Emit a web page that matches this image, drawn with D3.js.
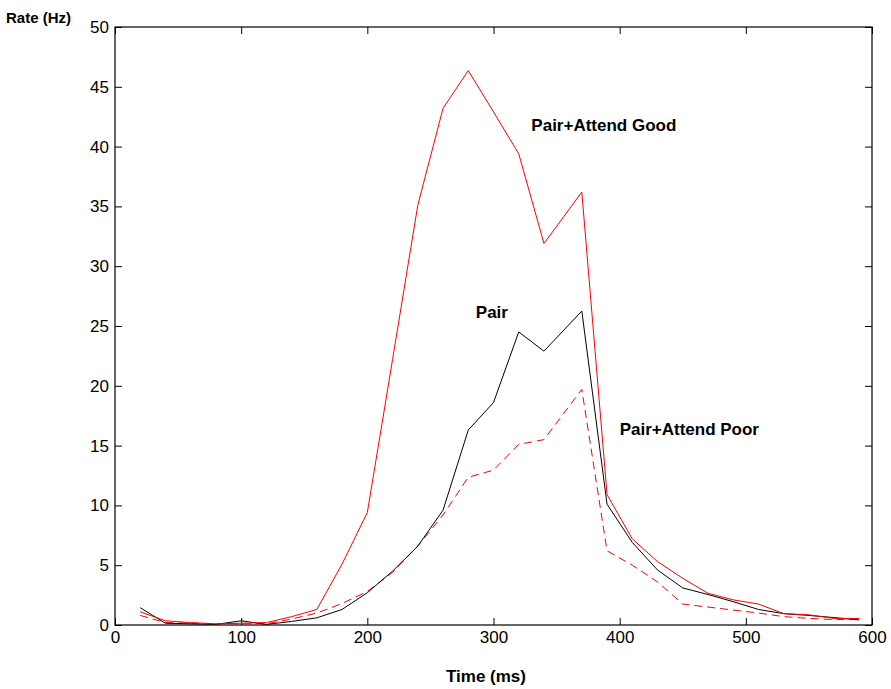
<!DOCTYPE html>
<html>
<head>
<meta charset="utf-8">
<script src="https://cdn.jsdelivr.net/npm/d3@7"></script>
<style>
  body { margin: 0; background: #fff; }
  svg text { font-family: "Liberation Sans", Arial, Helvetica, sans-serif; }
</style>
</head>
<body>
<div id="chart"></div>
<script>
// Firing rate over time for three conditions
const times = [20, 40, 60, 80, 100, 120, 140, 160, 180, 200, 220, 240, 260, 280, 300, 320, 340, 370,
               390, 410, 430, 450, 470, 490, 510, 530, 550, 570, 590];
const attendGood = [1.1, 0.35, 0.2, 0.1, 0.15, 0.2, 0.7, 1.3, 5.1, 9.4, 22.2, 35.1, 43.2, 46.35, 42.9, 39.4, 31.9, 36.2,
                    10.9, 7.2, 5.3, 3.9, 2.65, 2.1, 1.75, 0.95, 0.85, 0.55, 0.55];
const pair = [1.45, 0.15, 0.1, 0.05, 0.35, 0.05, 0.3, 0.6, 1.3, 2.7, 4.5, 6.6, 9.6, 16.3, 18.6, 24.5, 22.9, 26.25,
              10.1, 6.9, 4.6, 3.1, 2.55, 1.95, 1.3, 0.95, 0.8, 0.62, 0.42];
const attendPoor = [0.8, 0.2, 0.15, 0.1, 0.1, 0.1, 0.5, 1.0, 1.8, 2.8, 4.4, 6.6, 9.2, 12.35, 12.95, 15.1, 15.5, 19.7,
                    6.2, 5.0, 3.6, 1.75, 1.5, 1.25, 1.0, 0.7, 0.55, 0.45, 0.5];
const xTicks = [0, 100, 200, 300, 400, 500, 600];
const yTicks = [0, 5, 10, 15, 20, 25, 30, 35, 40, 45, 50];

const width = 891, height = 689;
const margin = {top: 27, right: 19, bottom: 64, left: 115};
const innerW = width - margin.left - margin.right;
const innerH = height - margin.top - margin.bottom;

const svg = d3.select("#chart").append("svg")
  .attr("width", width)
  .attr("height", height);

const x = d3.scaleLinear().domain([0, 600]).range([0, innerW]);
const y = d3.scaleLinear().domain([0, 50]).range([innerH, 0]);

const g = svg.append("g").attr("transform", `translate(${margin.left},${margin.top})`);

// axes, matlab style: ticks inside on all four sides
const tickLen = 7;
g.append("g")
  .attr("transform", `translate(0,${innerH})`)
  .call(d3.axisBottom(x).tickValues(xTicks).tickSizeInner(-tickLen).tickSizeOuter(0).tickPadding(6))
  .call(a => a.select(".domain").remove());
g.append("g")
  .call(d3.axisTop(x).tickValues(xTicks).tickSizeInner(-tickLen).tickSizeOuter(0).tickFormat(""))
  .call(a => a.select(".domain").remove());
g.append("g")
  .call(d3.axisLeft(y).tickValues(yTicks).tickSizeInner(-tickLen).tickSizeOuter(0).tickPadding(6))
  .call(a => a.select(".domain").remove());
g.append("g")
  .attr("transform", `translate(${innerW},0)`)
  .call(d3.axisRight(y).tickValues(yTicks).tickSizeInner(-tickLen).tickSizeOuter(0).tickFormat(""))
  .call(a => a.select(".domain").remove());

g.selectAll(".tick text")
  .attr("font-size", 17)
  .attr("fill", "#000");
g.selectAll(".tick line").attr("stroke", "#000");

g.append("rect")
  .attr("width", innerW)
  .attr("height", innerH)
  .attr("fill", "none")
  .attr("stroke", "#000")
  .attr("stroke-width", 1.2);

const line = d3.line()
  .x((d, i) => x(times[i]))
  .y(d => y(d));

g.append("path").datum(attendPoor)
  .attr("d", line)
  .attr("fill", "none")
  .attr("stroke", "#ff0000")
  .attr("stroke-width", 1)
  .attr("stroke-dasharray", "8,5");

g.append("path").datum(pair)
  .attr("d", line)
  .attr("fill", "none")
  .attr("stroke", "#000")
  .attr("stroke-width", 1);

g.append("path").datum(attendGood)
  .attr("d", line)
  .attr("fill", "none")
  .attr("stroke", "#ff0000")
  .attr("stroke-width", 1);

// labels on the curves
const labels = [
  {text: "Pair+Attend Good", t: 330, v: 41.3},
  {text: "Pair", t: 286, v: 25.67},
  {text: "Pair+Attend Poor", t: 400, v: 15.89}
];
g.selectAll(".lbl").data(labels).enter().append("text")
  .attr("class", "lbl")
  .attr("x", d => x(d.t))
  .attr("y", d => y(d.v))
  .attr("font-size", 17)
  .attr("font-weight", "bold")
  .text(d => d.text);

svg.append("text")
  .attr("x", 6)
  .attr("y", 23)
  .attr("font-size", 15)
  .attr("font-weight", "bold")
  .text("Rate (Hz)");

svg.append("text")
  .attr("x", 486)
  .attr("y", 682)
  .attr("text-anchor", "middle")
  .attr("font-size", 17)
  .attr("font-weight", "bold")
  .text("Time (ms)");
</script>
</body>
</html>
